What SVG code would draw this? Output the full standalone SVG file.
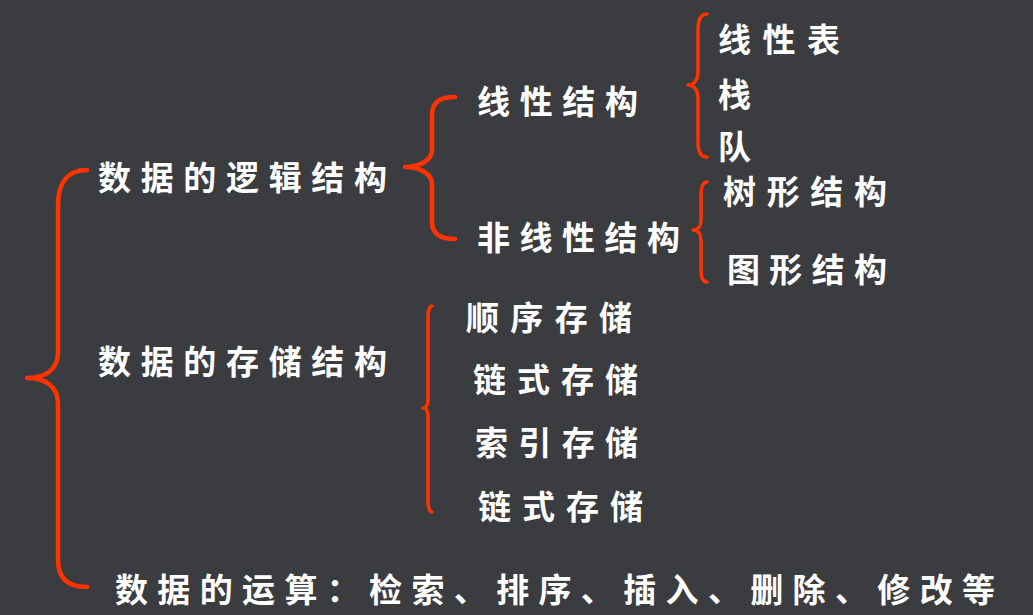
<svg xmlns="http://www.w3.org/2000/svg" width="1033" height="615" viewBox="0 0 1033 615">
<style>
.t{font-family:"Noto Sans CJK SC","Noto Sans",sans-serif;font-size:33px;font-weight:bold;fill:#ffffff}
.b{fill:none;stroke:#ff3300;stroke-linecap:round;stroke-linejoin:round}
.w4{stroke-width:4.5}
.w3{stroke-width:3.5}
</style>
<rect width="1033" height="615" fill="#3b3c40"/>
<g id="connectors">
<path class="b w4" d="M87,170 C68,170 58,182 58,205 L58,352 C58,370 45,378 27,378 C45,378 58,386 58,404 L58,560 C58,578 68,587 87,587"/>
<path class="b w4" d="M455,97 C440,97 432,102 432,115 L432,150 C432,160 420,167 405,167 C420,167 432,174 432,184 L432,222 C432,234 440,239 455,239"/>
<path class="b w3" d="M707,14 C701,14 698,20 698,30 L698,72 C698,80 694,85 688,85 C694,85 698,90 698,98 L698,142 C698,152 701,157 707,157"/>
<path class="b w3" d="M707,182 C703,182 701,188 701,196 L701,220 C701,226 698,230 693,230 C698,230 701,234 701,240 L701,270 C701,278 703,282 707,282"/>
<path class="b w3" d="M432,306 C430,306 428,310 428,316 L428,400 C428,405 426,408 423,408 C426,408 428,411 428,416 L428,502 C428,508 430,512 432,512"/>
</g>
<g id="logic"><text class="t" x="98" y="190" textLength="289" lengthAdjust="spacing">数据的逻辑结构</text></g>
<g id="storage"><text class="t" x="98" y="374" textLength="289" lengthAdjust="spacing">数据的存储结构</text></g>
<g id="ops"><text class="t" x="115" y="602" textLength="880" lengthAdjust="spacing">数据的运算：检索、排序、插入、删除、修改等</text></g>
<g id="linear"><text class="t" x="477" y="114" textLength="161" lengthAdjust="spacing">线性结构</text></g>
<g id="nonlinear"><text class="t" x="477" y="250" textLength="203" lengthAdjust="spacing">非线性结构</text></g>
<g id="list"><text class="t" x="718" y="52" textLength="122" lengthAdjust="spacing">线性表</text></g>
<g id="stack"><text class="t" x="718" y="107">栈</text></g>
<g id="queue"><text class="t" x="718" y="159">队</text></g>
<g id="tree"><text class="t" x="723" y="204" textLength="164" lengthAdjust="spacing">树形结构</text></g>
<g id="graph"><text class="t" x="727" y="282" textLength="160" lengthAdjust="spacing">图形结构</text></g>
<g id="seq"><text class="t" x="466" y="330" textLength="166" lengthAdjust="spacing">顺序存储</text></g>
<g id="link1"><text class="t" x="473" y="392" textLength="165" lengthAdjust="spacing">链式存储</text></g>
<g id="index"><text class="t" x="475" y="455" textLength="163" lengthAdjust="spacing">索引存储</text></g>
<g id="link2"><text class="t" x="478" y="519" textLength="165" lengthAdjust="spacing">链式存储</text></g>
</svg>
